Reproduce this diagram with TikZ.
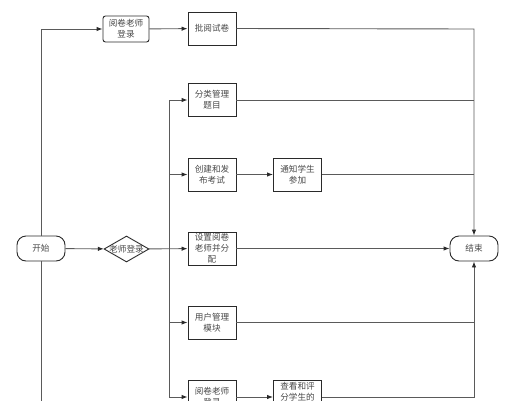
\documentclass[tikz,border=0pt]{standalone}
\usepackage{fontspec}
\newfontfamily\cjk{Noto Sans CJK SC}
\usetikzlibrary{shapes.geometric,arrows.meta}
\definecolor{linegray}{HTML}{5A5A5A}
\definecolor{boxline}{HTML}{2A2A2A}
\definecolor{txt}{HTML}{484848}
\begin{document}
\begin{tikzpicture}[x=1pt,y=-1pt,
  every node/.style={font=\cjk\fontsize{8.6}{11}\selectfont, text=txt, align=center},
  proc/.style={draw=boxline, line width=0.9pt, minimum width=48pt, minimum height=33pt, inner sep=1pt, text width=44pt},
  term/.style={draw=boxline, line width=0.9pt, minimum width=48pt, minimum height=25pt, rounded corners=9pt, inner sep=1pt},
  conn/.style={draw=linegray, line width=0.9pt},
  arr/.style={conn, -{Latex[length=6pt,width=4.5pt,color=boxline]}}]
\useasboundingbox (0,0) rectangle (515,400);
\clip (0,0) rectangle (515,400);
% nodes
\node[term] (start) at (41,248.5) {开始};
\node[diamond, draw=boxline, line width=0.9pt, minimum width=45pt, minimum height=26pt, inner sep=0pt] (dia) at (126.5,249) {};
\node at (dia) {老师登录};
\node[draw=boxline, line width=0.9pt, minimum width=46pt, minimum height=26pt, rounded corners=2.5pt, inner sep=1pt] (tlogin) at (126,29) {阅卷老师\\登录};
\node[proc] (grade) at (212,28.5) {批阅试卷};
\node[proc] (cat) at (212,100) {分类管理\\题目};
\node[proc] (create) at (212,174.5) {创建和发\\布考试};
\node[proc] (assign) at (212,248.5) {设置阅卷\\老师并分\\配};
\node[proc] (user) at (212,322.5) {用户管理\\模块};
\node[proc, minimum height=34pt] (tlogin2) at (212,397) {阅卷老师\\登录};
\node[proc] (notify) at (297.5,174.5) {通知学生\\参加};
\node[proc, minimum height=34pt] (view) at (297.5,397) {查看和评\\分学生的\\\phantom{试卷}};
\node[term] (end) at (474,248.5) {结束};
% coordinates
\coordinate (tl) at (41,29);
\coordinate (bl) at (41,410);
\coordinate (busTop) at (169,100);
\coordinate (bus) at (169,249);
\coordinate (tr) at (474,29);
\coordinate (br) at (474,397);
% connectors
\draw[arr] (start.north) -- (tl) -- (tlogin.west);
\draw[conn] (start.south) -- (bl);
\draw[arr] (tlogin) -- (grade);
\draw[arr] (grade.east) -- (tr) -- (end.north);
\draw[arr] (start) -- (dia);
\draw[arr] (dia) -- (assign);
\draw[conn] (busTop) -- (169,397);
\draw[arr] (bus) |- (cat.west);
\draw[arr] (bus) |- (create.west);
\draw[arr] (bus) |- (user.west);
\draw[arr] (bus) |- (tlogin2.west);
\draw[conn] (cat.east) -- (cat.east -| tr);
\draw[arr] (create) -- (notify);
\draw[conn] (notify.east) -- (notify.east -| tr);
\draw[arr] (assign) -- (end);
\draw[conn] (user.east) -- (user.east -| tr);
\draw[arr] (tlogin2) -- (view);
\draw[arr] (view.east) -- (br) -- (end.south);
\end{tikzpicture}
\end{document}
